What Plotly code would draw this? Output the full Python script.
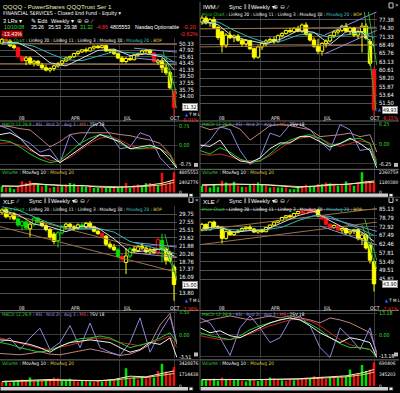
import math
import plotly.graph_objects as go

W, H = 400, 393
FONT = "Liberation Sans, Arial, sans-serif"
NARROW = "Liberation Sans Narrow, DejaVu Sans Condensed, sans-serif"
COND = "DejaVu Sans Condensed, DejaVu Sans, sans-serif"

# ---------------- shared x data ----------------
BARS = list(range(44))
DATE_TICKS = [5.1, 18.25, 31.4, 43.2]
DATE_LABELS = ["08", "APR", "JUL", "OCT"]
VGRID = [14.5, 29.25, 43.0]
MA_GRID = [0, 4, 8, 12, 16, 20, 24, 28, 32, 36, 40, 43]
IND_GRID = [-0.5, 2, 4.5, 7, 9.5, 12, 14.5, 17, 19.5, 22, 24.5, 27, 29.5, 32, 34.5, 37, 39.5, 42, 43.7]

# ---------------- QQQQ ----------------
QQQQ_OPEN = [50.4, 51.9, 51.2, 49.5, 48.8, 45.6, 44.3, 45.2, 43.5, 44.1,
             42.9, 42.0, 41.3, 41.8, 42.6, 43.4, 44.2, 45.2, 45.6, 46.7,
             47.3, 48.0, 47.6, 48.7, 49.3, 48.8, 49.5, 47.6, 47.9, 46.6,
             45.2, 44.0, 45.0, 44.6, 46.2, 46.6, 47.6, 47.9, 46.9, 43.8,
             44.3, 42.0, 40.5, 35.26]
QQQQ_HIGH = [52.4, 52.3, 51.9, 50.2, 49.2, 46.0, 45.8, 45.7, 44.6, 44.5,
             43.6, 42.9, 42.2, 43.0, 43.8, 44.6, 45.6, 46.0, 47.0, 47.6,
             48.3, 48.8, 49.0, 49.6, 49.8, 49.9, 49.9, 48.4, 48.2, 47.0,
             45.8, 45.5, 46.0, 46.5, 47.0, 48.0, 48.3, 48.2, 47.0, 45.0,
             45.2, 43.0, 41.0, 35.53]
QQQQ_LOW = [50.0, 50.6, 49.0, 48.2, 45.2, 43.8, 42.8, 43.0, 42.4, 42.6,
            41.5, 40.9, 40.6, 41.0, 42.0, 42.6, 43.9, 44.6, 45.2, 46.0,
            46.9, 47.0, 47.4, 48.0, 48.4, 48.5, 47.3, 46.8, 46.3, 44.8,
            43.6, 43.4, 44.2, 44.4, 45.6, 46.2, 46.8, 46.6, 43.6, 43.0,
            40.5, 39.8, 35.9, 29.38]
QQQQ_CLOSE = [51.9, 51.2, 49.5, 48.8, 45.6, 44.3, 45.2, 43.5, 44.1, 42.9,
              42.0, 41.3, 41.8, 42.6, 43.4, 44.2, 45.2, 45.6, 46.7, 47.3,
              48.0, 47.6, 48.7, 49.3, 48.8, 49.5, 47.6, 47.9, 46.6, 45.2,
              44.0, 45.0, 44.6, 46.2, 46.6, 47.6, 47.9, 46.9, 44.0, 44.3,
              42.0, 40.5, 36.2, 31.32]
QQQQ_BOP = ("YRYYRRYYYY" "YYYYYYYYYY" "YYYYYYYYYY" "YYYYYYYYRY" "YYYR")
QQQQ_MA10 = [50.8, 50.6, 47.8, 43.6, 42.6, 45.0, 47.8, 48.3, 46.0, 46.6, 45.6, 41.5]
QQQQ_MA20 = [50.0, 50.4, 49.3, 46.7, 44.6, 44.3, 45.8, 47.4, 47.0, 46.5, 46.2, 43.8]
QQQQ_LR20 = [[-0.5, 50.2, 43.7, 50.0], [-0.5, 43.2, 43.7, 43.0]]
QQQQ_LR11 = [[33, 48.6, 43.7, 47.2], [33, 45.2, 43.7, 43.8]]
QQQQ_LR3 = [[40.3, 47.5, 43.6, 31.1], [41.0, 45.5, 43.7, 34.5]]
QQQQ_MACD = [0.2, 0.14, -0.07, -0.34, -0.55, -0.68, -0.61, -0.27, 0.07, 0.27, 0.41, 0.34, 0.07, -0.14, -0.14, -0.07, -0.14, -0.41, -0.89]
QQQQ_SIGNAL = [0.07, 0.1, 0.0, -0.2, -0.41, -0.59, -0.64, -0.48, -0.2, 0.07, 0.27, 0.34, 0.2, 0.0, -0.14, -0.14, -0.14, -0.34, -0.82]
QQQQ_RSI = [0.75, 0.61, 0.27, 0.07, -0.27, -0.14, -0.68, 0.41, 0.0, 0.68, 0.89, 0.41, -0.14, -0.07, 0.48, 0.34, -0.48, -0.89, -0.95]
QQQQ_MS = [0.75, 0.72, 0.64, 0.59, 0.27, -0.07, 0.14, 0.41, 0.48, 0.48, 0.5, 0.48, 0.41, 0.37, 0.27, 0.2, 0.07, -0.34, -0.89]
QQQQ_TSV = [0.41, 0.48, 0.27, -0.14, -0.41, -0.41, -0.68, -0.41, -0.14, 0.14, 0.41, 0.27, 0.14, -0.14, -0.07, 0.0, -0.14, -0.55, -0.89]
QQQQ_VOL = [1.5, 1.2, 1.2, 0.8, 1.5, 2.7, 2.3, 2.8, 1.9, 1.9,
            1.5, 1.9, 1.1, 1.3, 1.5, 1.5, 1.9, 2.3, 2.1, 1.5,
            1.5, 1.3, 1.5, 1.1, 1.1, 1.1, 1.1, 1.1, 1.3, 1.1,
            1.5, 2.3, 1.1, 1.7, 1.9, 1.5, 2.2, 2.3, 2.0, 1.7,
            4.7, 1.9, 2.7, 4.8]
QQQQ_VDIR = ("GRGGRRRRRG" "RGRGRGRGGR" "GGRGGRGGRG" "GRGRRGGRRG" "RRRR")
QQQQ_VMA10 = [1.6, 1.5, 2.2, 1.8, 1.6, 1.7, 1.3, 1.2, 1.4, 1.7, 2.2, 3.0]
QQQQ_VMA20 = [1.5, 1.5, 1.9, 1.9, 1.7, 1.6, 1.4, 1.3, 1.3, 1.5, 1.8, 2.4]
QQQQ_PTICKS = [50.33, 47.92, 45.61, 43.45, 41.33, 39.50, 37.55, 35.75, 34.00]
QQQQ_ITICKS = [0.75, 0.0, -0.75]
QQQQ_ILABELS = ["0.75", "0.00", "-0.75"]
QQQQ_VTICKS = [4.805553, 2.402776, 0]
QQQQ_VLABELS = ["4805553", "2402776", "0"]

# ---------------- IWM ----------------
IWM_OPEN = [76.5, 78.0, 76.2, 77.4, 74.5, 73.0, 68.4, 71.8, 70.9, 71.5,
            70.0, 68.8, 69.9, 67.2, 64.5, 67.8, 68.9, 69.8, 70.3, 69.5,
            71.6, 72.4, 73.4, 73.0, 74.2, 73.2, 75.4, 72.0, 70.1, 68.0,
            66.4, 68.9, 69.8, 71.6, 72.9, 73.5, 75.0, 73.2, 74.3, 71.8,
            73.0, 75.0, 69.6, 60.6]
IWM_HIGH = [79.0, 78.8, 78.0, 78.5, 75.0, 73.4, 72.5, 73.2, 72.0, 72.2,
            70.8, 70.4, 70.2, 67.6, 68.3, 69.5, 70.4, 71.0, 71.3, 72.0,
            72.8, 73.8, 74.4, 74.6, 75.2, 76.0, 76.4, 72.6, 71.0, 70.5,
            69.4, 70.3, 72.0, 73.5, 74.0, 75.5, 76.2, 74.8, 74.8, 73.8,
            76.3, 76.0, 70.5, 61.5]
IWM_LOW = [75.5, 75.6, 74.8, 74.0, 70.2, 66.0, 67.5, 70.4, 69.4, 69.5,
           68.0, 67.9, 66.8, 63.8, 64.0, 66.8, 68.0, 69.0, 68.8, 69.2,
           71.0, 72.0, 72.5, 72.6, 72.8, 72.6, 71.6, 69.6, 67.5, 65.4,
           65.0, 67.6, 69.3, 70.8, 72.0, 72.9, 72.6, 72.0, 71.2, 70.5,
           66.0, 70.2, 61.8, 48.5]
IWM_CLOSE = [78.0, 76.2, 77.4, 74.5, 71.0, 68.4, 71.8, 70.9, 71.5, 70.0,
             68.8, 69.9, 67.2, 64.5, 67.8, 68.9, 69.8, 70.3, 69.5, 71.6,
             72.4, 73.4, 73.0, 74.2, 73.2, 75.4, 72.0, 70.1, 68.0, 66.4,
             68.9, 69.8, 71.6, 72.9, 73.5, 75.0, 73.2, 74.3, 71.8, 73.0,
             75.0, 70.8, 62.6, 49.93]
IWM_BOP = ("YYYYYYYYYY" "YYYYYYYYYY" "YYYYYYYYYY" "YYYYYYYYYY" "YYYR")
IWM_MA10 = [77.0, 75.5, 71.0, 69.8, 68.8, 70.6, 73.4, 72.8, 68.6, 73.0, 73.0, 68.0]
IWM_MA20 = [76.0, 76.6, 73.5, 71.0, 69.2, 69.8, 71.8, 72.6, 71.0, 71.8, 72.8, 70.8]
IWM_LR20 = [[-0.5, 74.0, 43.7, 74.6], [-0.5, 67.8, 43.7, 68.4]]
IWM_LR11 = [[30.75, 71.9, 43.7, 80.4], [30.75, 65.6, 43.7, 73.5]]
IWM_LR3 = [[40.6, 80.4, 43.5, 49.6], [41.6, 80.4, 43.7, 62.0]]
IWM_MACD = [-2.0, -3.1, -1.1, -2.5, -4.7, -5.8, -5.3, -3.1, -0.3, 1.3, 2.4, 3.0, 1.9, -0.3, 0.2, 1.5, 1.9, 0.2, -6.4]
IWM_SIGNAL = [-3.1, -3.5, -3.1, -3.9, -5.0, -5.3, -5.3, -3.6, -1.4, 0.8, 1.9, 2.4, 1.9, 0.2, -0.7, 0.2, 1.1, 0.4, -5.3]
IWM_RSI = [-1.4, 1.3, 5.5, 4.6, -2.0, -6.4, -4.2, 3.5, 2.4, 6.2, 6.2, 4.6, 0.8, -2.0, 6.2, 4.6, -2.0, -1.4, -6.4]
IWM_MS = [5.7, 4.6, 5.2, 6.2, 4.8, 1.3, 3.5, 5.9, 6.2, 5.9, 5.2, 4.6, 2.4, 2.6, 3.0, 3.5, 2.4, 3.0, -2.5]
IWM_TSV = [-0.3, -0.7, 1.3, -3.1, -5.3, -5.8, -4.4, -1.4, 0.4, 0.4, 2.4, 2.4, 0.8, -0.9, 0.2, 1.9, 0.2, -2.0, -7.5]
IWM_VOL = [0.79, 0.98, 0.59, 0.98, 0.67, 1.38, 1.18, 0.98, 1.26, 0.79,
           0.67, 0.67, 0.98, 1.06, 1.18, 0.98, 0.79, 0.59, 0.67, 0.59,
           0.59, 0.59, 0.39, 0.39, 0.59, 0.67, 0.90, 0.79, 0.67, 0.98,
           0.98, 1.18, 1.06, 0.98, 0.79, 0.90, 1.30, 0.98, 0.79, 1.06,
           2.36, 1.38, 1.18, 1.30]
IWM_VDIR = ("GRGGGRGRGR" "GRGRGGRGRG" "GRGGGRRGGR" "GRGRGRGRGR" "GRRR")
IWM_VMA10 = [0.9, 0.95, 1.0, 0.95, 0.9, 0.75, 0.6, 0.75, 0.95, 0.95, 1.2, 1.35]
IWM_VMA20 = [0.85, 0.9, 0.95, 0.95, 0.92, 0.82, 0.7, 0.72, 0.85, 0.9, 1.05, 1.2]
IWM_PTICKS = [77.38, 74.30, 71.33, 68.49, 65.76, 63.13, 60.61, 58.20, 55.87, 53.64, 51.50]
IWM_ITICKS = [6.25, 0.0, -6.25]
IWM_ILABELS = ["6.25", "0.00", "-6.25"]
IWM_VTICKS = [2.360759, 1.180380, 0]
IWM_VLABELS = ["2360759", "1180380", "0"]

# ---------------- XLF ----------------
XLF_OPEN = [30.2, 31.2, 29.0, 29.8, 28.4, 26.6, 27.6, 25.8, 27.0, 28.6,
            27.6, 26.6, 25.6, 24.5, 23.0, 24.8, 26.4, 27.0, 26.3, 26.0,
            26.8, 26.2, 27.2, 26.3, 25.2, 24.6, 24.0, 22.2, 21.6, 21.0,
            19.7, 18.6, 19.8, 21.2, 20.9, 21.7, 21.4, 20.6, 21.1, 20.5,
            23.0, 21.2, 20.3, 17.8]
XLF_HIGH = [31.5, 31.6, 30.2, 30.4, 28.8, 28.0, 28.0, 27.4, 29.0, 28.9,
            27.8, 27.0, 26.0, 25.0, 25.2, 26.8, 27.4, 27.3, 26.8, 27.2,
            27.3, 27.6, 27.8, 26.6, 25.6, 24.9, 24.3, 22.8, 22.3, 21.4,
            20.3, 21.4, 21.6, 21.8, 22.0, 22.4, 21.8, 21.5, 21.4, 23.6,
            24.6, 21.6, 20.8, 18.2]
XLF_LOW = [29.6, 28.6, 28.2, 28.0, 26.3, 25.4, 25.6, 23.8, 26.4, 27.2,
           26.2, 25.2, 23.4, 22.2, 21.5, 24.4, 25.8, 25.8, 25.4, 25.6,
           25.8, 25.9, 26.0, 24.9, 24.3, 23.8, 21.8, 21.2, 20.8, 19.4,
           18.8, 16.6, 19.4, 20.4, 20.6, 21.0, 20.3, 20.1, 20.2, 19.9,
           18.6, 18.2, 18.6, 12.8]
XLF_CLOSE = [31.0, 29.0, 29.8, 28.4, 26.8, 27.6, 26.0, 27.0, 28.6, 27.6,
             26.6, 25.6, 23.8, 22.8, 24.8, 26.4, 27.0, 26.3, 26.0, 26.8,
             26.2, 27.2, 26.3, 25.2, 24.6, 24.0, 22.2, 21.6, 21.0, 19.7,
             19.2, 19.8, 21.2, 20.9, 21.7, 21.4, 20.6, 21.1, 20.5, 23.2,
             21.2, 19.0, 18.9, 15.00]
XLF_BOP = ("YYYYGGGYGG" "YYYYGGYYYY" "GYYYYRYYYG" "RYGYYYYYYR" "GYYY")
XLF_MA10 = [31.0, 29.6, 27.0, 26.3, 25.1, 26.5, 26.0, 23.4, 20.5, 20.8, 21.2, 19.8]
XLF_MA20 = [32.0, 31.0, 29.0, 27.2, 26.0, 25.8, 25.9, 25.0, 22.8, 21.8, 21.0, 20.4]
XLF_LR20 = [[-0.5, 30.5, 43.7, 19.6], [-0.5, 26.35, 43.7, 16.9]]
XLF_LR11 = [[33, 22.6, 43.7, 21.6], [33, 20.4, 43.7, 19.5]]
XLF_LR3 = [[40.7, 24.5, 43.7, 15.6], [40.0, 22.8, 43.7, 16.0]]
XLF_MACD = [-1.2, -1.5, -2.0, -2.3, -2.7, -2.4, -1.8, -1.2, -0.6, -0.5, -0.2, -0.5, -1.2, -2.0, -1.6, -1.2, -0.5, 0.3, -1.2]
XLF_SIGNAL = [-0.5, -0.9, -1.2, -1.6, -2.1, -2.3, -2.0, -1.6, -1.2, -0.6, -0.5, -0.7, -1.2, -1.5, -1.7, -1.2, -0.8, -0.2, -2.0]
XLF_RSI = [-1.2, -0.5, -2.3, -0.5, 1.0, -2.3, -1.2, 1.4, -2.0, 1.8, -2.0, -2.7, -3.2, -1.2, 2.6, -2.7, 0.3, 2.8, -1.2]
XLF_MS = [-2.9, -3.0, -3.1, -2.9, -2.6, -3.0, -3.1, -2.8, -2.5, -2.2, -2.5, -2.9, -3.2, -3.0, -2.4, -1.5, 1.5, 3.3, -1.5]
XLF_TSV = [-0.8, -0.9, -1.2, -1.5, -2.0, -2.7, -1.8, -1.2, -1.0, -0.8, -1.0, -1.2, -2.0, -2.7, -2.3, -1.2, -1.5, -0.5, -3.5]
XLF_VOL = [0.6, 0.8, 0.5, 0.7, 0.9, 1.0, 0.8, 1.3, 0.7, 0.9,
           0.8, 1.0, 0.9, 1.3, 1.2, 0.8, 0.9, 1.1, 0.8, 0.7,
           0.9, 0.8, 0.7, 0.6, 0.8, 0.7, 0.9, 1.0, 0.9, 1.2,
           1.0, 2.7, 1.1, 1.3, 1.0, 1.4, 1.2, 1.5, 1.3, 2.3,
           3.4, 2.2, 2.0, 2.9]
XLF_VDIR = ("RGRGGRRGRG" "RGRRRGGGRR" "GRGRRGRGRG" "RGRGRGRRGR" "GRRR")
XLF_VMA10 = [0.7, 0.8, 0.9, 1.0, 0.9, 0.8, 0.8, 1.0, 1.5, 1.4, 1.9, 2.3]
XLF_VMA20 = [0.65, 0.7, 0.8, 0.9, 0.9, 0.85, 0.8, 0.9, 1.2, 1.3, 1.6, 1.9]
XLF_PTICKS = [29.75, 27.55, 25.51, 23.62, 21.88, 20.26, 18.76, 17.37, 16.09, 13.80]
XLF_ITICKS = [3.50, 0.0, -3.51]
XLF_ILABELS = ["3.50", "0.00", "-3.51"]
XLF_VTICKS = [3.428876, 1.714438, 0]
XLF_VLABELS = ["3428876", "1714438", "0"]

# ---------------- XLE ----------------
XLE_OPEN = [71.0, 74.5, 71.0, 76.0, 72.8, 72.6, 65.8, 69.8, 68.0, 69.5,
            70.2, 71.8, 72.6, 71.5, 69.6, 70.4, 69.8, 72.4, 74.0, 76.0,
            77.0, 79.2, 80.4, 79.6, 82.0, 83.5, 82.4, 84.2, 83.0, 84.6,
            80.2, 78.2, 74.6, 72.4, 73.8, 70.8, 71.8, 69.0, 70.1, 71.0,
            65.6, 67.8, 61.8, 53.4]
XLE_HIGH = [75.5, 75.0, 76.5, 77.0, 74.0, 73.2, 70.6, 70.8, 70.2, 71.0,
            72.5, 73.2, 74.0, 72.2, 71.0, 71.6, 72.8, 74.4, 76.5, 77.5,
            79.6, 81.0, 81.4, 82.6, 84.0, 84.6, 85.0, 85.6, 85.3, 85.0,
            81.0, 78.8, 75.2, 74.4, 74.2, 72.4, 72.6, 70.6, 71.6, 71.8,
            69.0, 69.0, 63.0, 54.0]
XLE_LOW = [70.0, 70.3, 70.5, 72.2, 71.5, 62.8, 65.0, 67.4, 67.2, 68.8,
           69.6, 70.8, 71.0, 69.0, 68.5, 69.0, 69.4, 72.0, 73.5, 75.2,
           76.6, 78.4, 79.0, 79.2, 81.2, 81.8, 81.6, 82.6, 82.2, 79.4,
           77.6, 74.0, 71.8, 71.6, 70.2, 69.0, 68.2, 67.6, 68.4, 64.6,
           62.0, 59.5, 52.6, 41.0]
XLE_CLOSE = [74.5, 71.0, 76.0, 72.8, 72.5, 65.8, 69.8, 68.0, 69.5, 70.2,
             71.8, 72.6, 71.5, 69.6, 70.4, 69.8, 72.4, 74.0, 76.0, 77.0,
             79.2, 80.4, 79.6, 82.0, 83.5, 82.4, 84.2, 83.0, 84.6, 80.2,
             78.2, 74.6, 72.4, 73.8, 70.8, 71.8, 69.0, 70.1, 71.0, 65.6,
             67.8, 60.4, 54.2, 43.90]
XLE_BOP = ("YYYYYYYYYY" "YYYYYYYYYY" "YYYYYRRRRY" "RRRYRYYYYY" "YYYY")
XLE_MA10 = [72.0, 73.0, 69.5, 70.5, 71.0, 75.5, 80.5, 83.6, 77.0, 71.5, 69.5, 64.0]
XLE_MA20 = [70.5, 72.0, 71.0, 70.6, 71.0, 72.6, 77.0, 80.5, 80.0, 75.0, 71.0, 67.5]
XLE_LR20 = [[-0.5, 70.7, 43.7, 85.7], [-0.5, 62.2, 43.7, 76.0]]
XLE_LR11 = [[29.5, 80.5, 43.7, 70.0], [29.5, 73.4, 43.7, 62.0]]
XLE_LR3 = [[40.7, 78.0, 43.7, 54.0], [40.0, 74.0, 43.7, 50.0]]
XLE_MACD = [1.2, -0.6, -1.8, -3.0, -0.6, 3.0, 5.4, 7.2, 9.0, 10.2, 9.0, 6.6, 3.0, -1.8, -5.4, -7.8, -7.8, -9.0, -13.8]
XLE_SIGNAL = [-0.6, -1.8, -3.0, -3.0, -1.8, 0.6, 3.0, 5.4, 7.2, 9.0, 9.6, 8.4, 5.4, 1.2, -3.0, -6.0, -7.8, -9.0, -12.6]
XLE_RSI = [10.2, 7.2, -1.8, -12.6, 4.2, 11.4, 4.2, -4.8, -1.8, 9.0, 11.4, 5.4, -7.8, -13.8, 4.2, -1.8, -9.0, 4.2, -12.6]
XLE_MS = [7.2, 9.0, 10.2, 11.4, 10.2, 9.0, 10.2, 11.4, 10.2, 11.4, 10.2, 9.0, 7.2, 10.2, 9.0, 7.2, 4.2, 1.2, -10.8]
XLE_TSV = [4.2, 1.2, 2.4, -0.6, -1.8, 1.2, 4.2, 7.2, 9.0, 10.2, 9.0, 5.4, 1.2, -1.8, -4.8, -1.8, -3.0, -4.8, -13.8]
XLE_VOL = [0.20, 0.18, 0.20, 0.22, 0.16, 0.26, 0.20, 0.22, 0.18, 0.20,
           0.16, 0.14, 0.20, 0.18, 0.15, 0.20, 0.22, 0.26, 0.24, 0.20,
           0.18, 0.16, 0.20, 0.18, 0.20, 0.22, 0.26, 0.24, 0.30, 0.26,
           0.28, 0.22, 0.26, 0.30, 0.26, 0.30, 0.28, 0.50, 0.36, 0.40,
           0.64, 0.45, 0.50, 0.72]
XLE_VDIR = ("GGRGGRGRGG" "RGGRGGRGRR" "GRRGRRRGRR" "RRGRGRGGRR" "GGRR")
XLE_VMA10 = [0.2, 0.21, 0.2, 0.19, 0.2, 0.2, 0.22, 0.25, 0.27, 0.31, 0.4, 0.5]
XLE_VMA20 = [0.19, 0.2, 0.2, 0.2, 0.2, 0.2, 0.21, 0.23, 0.25, 0.28, 0.34, 0.42]
XLE_PTICKS = [85.13, 78.79, 72.92, 67.49, 62.46, 57.81, 53.49, 49.51, 45.82]
XLE_ITICKS = [13.18, 0.0, -13.18]
XLE_ILABELS = ["13.18", "0.00", "-13.18"]
XLE_VTICKS = [0.690406, 0.345203, 0]
XLE_VLABELS = ["690406", "345203", "0"]

# ---------------- panel layout (pixels) ----------------
CHARTS = [
    dict(sym="QQQQ", x0=0, price=(36, 120), ind=(121, 169), vol=(170, 193), scroll=194,
         prange=(28.4, 52.6), irange=(-0.92, 0.92), vrange=(0, 5.4), pct="-8.01%",
         tml_y=113.5, pct_y=119.5,
         o=QQQQ_OPEN, h=QQQQ_HIGH, l=QQQQ_LOW, c=QQQQ_CLOSE, bop=QQQQ_BOP,
         ma10=QQQQ_MA10, ma20=QQQQ_MA20, lr20=QQQQ_LR20, lr11=QQQQ_LR11, lr3=QQQQ_LR3,
         macd=QQQQ_MACD, sig=QQQQ_SIGNAL, rsi=QQQQ_RSI, ms=QQQQ_MS, tsv=QQQQ_TSV,
         vol_v=QQQQ_VOL, vdir=QQQQ_VDIR, vma10=QQQQ_VMA10, vma20=QQQQ_VMA20,
         pt=QQQQ_PTICKS, it=QQQQ_ITICKS, il=QQQQ_ILABELS, vt=QQQQ_VTICKS, vl=QQQQ_VLABELS),
    dict(sym="IWM", x0=200, price=(10, 120), ind=(121, 169), vol=(170, 193), scroll=194,
         prange=(47.4, 80.4), irange=(-7.8, 7.2), vrange=(0, 2.65), pct="-8.15%",
         tml_y=None, pct_y=117.5,
         o=IWM_OPEN, h=IWM_HIGH, l=IWM_LOW, c=IWM_CLOSE, bop=IWM_BOP,
         ma10=IWM_MA10, ma20=IWM_MA20, lr20=IWM_LR20, lr11=IWM_LR11, lr3=IWM_LR3,
         macd=IWM_MACD, sig=IWM_SIGNAL, rsi=IWM_RSI, ms=IWM_MS, tsv=IWM_TSV,
         vol_v=IWM_VOL, vdir=IWM_VDIR, vma10=IWM_VMA10, vma20=IWM_VMA20,
         pt=IWM_PTICKS, it=IWM_ITICKS, il=IWM_ILABELS, vt=IWM_VTICKS, vl=IWM_VLABELS),
    dict(sym="XLF", x0=0, price=(207, 312), ind=(313, 361), vol=(363, 389), scroll=390,
         prange=(11.7, 32.1), irange=(-3.66, 3.66), vrange=(0, 3.9), pct="-7.98%",
         tml_y=302.5, pct_y=311.0,
         o=XLF_OPEN, h=XLF_HIGH, l=XLF_LOW, c=XLF_CLOSE, bop=XLF_BOP,
         ma10=XLF_MA10, ma20=XLF_MA20, lr20=XLF_LR20, lr11=XLF_LR11, lr3=XLF_LR3,
         macd=XLF_MACD, sig=XLF_SIGNAL, rsi=XLF_RSI, ms=XLF_MS, tsv=XLF_TSV,
         vol_v=XLF_VOL, vdir=XLF_VDIR, vma10=XLF_VMA10, vma20=XLF_VMA20,
         pt=XLF_PTICKS, it=XLF_ITICKS, il=XLF_ILABELS, vt=XLF_VTICKS, vl=XLF_VLABELS),
    dict(sym="XLE", x0=200, price=(207, 312), ind=(313, 361), vol=(363, 389), scroll=390,
         prange=(34.8, 87.4), irange=(-14.4, 14.4), vrange=(0, 0.78), pct="-7.41%",
         tml_y=302.5, pct_y=311.0,
         o=XLE_OPEN, h=XLE_HIGH, l=XLE_LOW, c=XLE_CLOSE, bop=XLE_BOP,
         ma10=XLE_MA10, ma20=XLE_MA20, lr20=XLE_LR20, lr11=XLE_LR11, lr3=XLE_LR3,
         macd=XLE_MACD, sig=XLE_SIGNAL, rsi=XLE_RSI, ms=XLE_MS, tsv=XLE_TSV,
         vol_v=XLE_VOL, vdir=XLE_VDIR, vma10=XLE_VMA10, vma20=XLE_VMA20,
         pt=XLE_PTICKS, it=XLE_ITICKS, il=XLE_ILABELS, vt=XLE_VTICKS, vl=XLE_VLABELS),
]

CANDLE_COL = {"Y": "#ffff00", "R": "#ff1010", "G": "#00e400"}
VOL_COL = {"G": "#00e000", "R": "#f01010"}
GREEN_T = "#33dd33"
RED_T = "#ff3030"
PLOT_W = 177

fig = go.Figure()
axes = {}
annotations = []
shapes = []


def px(v):
    return v / W


def py(v):
    return 1 - v / H


def ann(x, y, text, color="#ffffff", size=5.5, family=FONT, xanchor="left", **kw):
    d = dict(x=px(x), y=py(y), xref="paper", yref="paper", text=text, showarrow=False,
             xanchor=xanchor, yanchor="middle", align="left",
             font=dict(color=color, size=size, family=family), borderpad=0)
    d.update(kw)
    annotations.append(d)


def hline(x0, x1, y, color="#6a6a6a", width=1):
    shapes.append(dict(type="line", xref="paper", yref="paper", x0=px(x0), x1=px(x1),
                       y0=py(y), y1=py(y), line=dict(color=color, width=width)))


def rect(x0, y0, x1, y1, fill, line=None):
    shapes.append(dict(type="rect", xref="paper", yref="paper", x0=px(x0), x1=px(x1),
                       y0=py(y1), y1=py(y0), fillcolor=fill,
                       line=dict(color=line or fill, width=1 if line else 0)))


def make_axes(k, x0, ytop, ybot, ycfg):
    xn = "xaxis" if k == 1 else f"xaxis{k}"
    yn = "yaxis" if k == 1 else f"yaxis{k}"
    xid = "x" if k == 1 else f"x{k}"
    yid = "y" if k == 1 else f"y{k}"
    axes[xn] = dict(domain=[px(x0), px(x0 + PLOT_W)], range=[-0.5, 43.75], anchor=yid,
                    tickmode="array", tickvals=VGRID, showticklabels=False, ticks="",
                    showgrid=True, gridcolor="#3a3a3a", gridwidth=1, zeroline=False,
                    showline=False, fixedrange=True)
    base = dict(domain=[py(ybot), py(ytop)], anchor=xid, side="right", ticks="",
                zeroline=False, showline=False, fixedrange=True, tickmode="array",
                ticklabelstandoff=1)
    base.update(ycfg)
    axes[yn] = base
    return xid, yid


LEGEND = ("<span style='color:#33dd33'>Price Chart</span> : LinReg 20 : LinReg 11 : LinReg 3 : "
          "MovAvg 10 : <span style='color:#40c8c8'>MovAvg 20</span> : "
          "<span style='color:#e0d040'>BOP</span>")
IND_TITLE = ("<span style='color:#33dd33'>MACD 12,26,9</span> : "
             "<span style='color:#9a9aee'>RSI : Rnd 2r : Avg 3</span> : "
             "<span style='color:#e06060'>MS</span> : TSV 18")
VOL_TITLE = ("<span style='color:#33dd33'>Volume</span> : MovAvg 10 : "
             "<span style='color:#e0d040'>MovAvg 20</span>")

for ci, ch in enumerate(CHARTS):
    x0 = ch["x0"]
    kp, ki, kv = ci * 3 + 1, ci * 3 + 2, ci * 3 + 3
    o, h, l, c, bop = ch["o"], ch["h"], ch["l"], ch["c"], ch["bop"]

    # ---- price pane ----
    ptxt = [f"{v:.2f}" for v in ch["pt"]]
    xp, yp = make_axes(kp, x0, ch["price"][0], ch["price"][1], dict(
        type="log", range=[math.log10(ch["prange"][0]), math.log10(ch["prange"][1])],
        tickvals=ch["pt"], ticktext=ptxt, showgrid=True, gridcolor="#505050",
        tickfont=dict(size=5.8, color="#f4f4f4", family=COND)))

    for seg_list, col in ((ch["lr20"], "#a07040"), (ch["lr11"], "#8c8cd8"), (ch["lr3"], "#30b030")):
        for s in seg_list:
            fig.add_trace(go.Scatter(x=[s[0], s[2]], y=[s[1], s[3]], mode="lines",
                                     line=dict(color=col, width=1), xaxis=xp, yaxis=yp,
                                     hoverinfo="skip", showlegend=False))
    fig.add_trace(go.Scatter(x=MA_GRID, y=ch["ma20"], mode="lines", line=dict(color="#2fb8b8", width=1),
                             xaxis=xp, yaxis=yp, hoverinfo="skip", showlegend=False))
    fig.add_trace(go.Scatter(x=MA_GRID, y=ch["ma10"], mode="lines", line=dict(color="#d8d8d8", width=1),
                             xaxis=xp, yaxis=yp, hoverinfo="skip", showlegend=False))

    for key, col in CANDLE_COL.items():
        wx, wy = [], []
        for i in BARS:
            if bop[i] != key:
                continue
            top, bot = max(o[i], c[i]), min(o[i], c[i])
            wx += [i, i, None, i, i, None]
            wy += [h[i], top, None, bot, l[i], None]
        if wx:
            fig.add_trace(go.Scatter(x=wx, y=wy, mode="lines", line=dict(color=col, width=1),
                                     xaxis=xp, yaxis=yp, hoverinfo="skip", showlegend=False,
                                     connectgaps=False))
    fills = [("#000000" if c[i] > o[i] else CANDLE_COL[bop[i]]) for i in BARS]
    lines = [CANDLE_COL[bop[i]] for i in BARS]
    fig.add_trace(go.Bar(x=BARS, y=[c[i] - o[i] for i in BARS], base=o, width=0.85,
                         marker=dict(color=fills, line=dict(color=lines, width=1)),
                         xaxis=xp, yaxis=yp, hoverinfo="skip", showlegend=False))

    # ---- indicator pane ----
    itxt = [f"<span style='color:{GREEN_T}'>{ch['il'][0]}</span>",
            f"<span style='color:{GREEN_T}'>{ch['il'][1]}</span>",
            ch["il"][2]]
    xi, yi = make_axes(ki, x0, ch["ind"][0], ch["ind"][1], dict(
        range=list(ch["irange"]), tickvals=ch["it"], ticktext=itxt, showgrid=True,
        gridcolor="#3c3c3c", tickfont=dict(size=5.3, color="#f4f4f4", family=COND)))
    for key, col in (("ms", "#c08080"), ("rsi", "#8888dd"), ("sig", "#c02828"),
                     ("macd", "#26c826"), ("tsv", "#ececec")):
        fig.add_trace(go.Scatter(x=IND_GRID, y=ch[key], mode="lines", line=dict(color=col, width=1),
                                 xaxis=xi, yaxis=yi, hoverinfo="skip", showlegend=False))

    # ---- volume pane ----
    xv, yv = make_axes(kv, x0, ch["vol"][0], ch["vol"][1], dict(
        range=list(ch["vrange"]), tickvals=ch["vt"], ticktext=ch["vl"], showgrid=False,
        tickfont=dict(size=4.8, color="#f4f4f4", family=COND)))
    fig.add_trace(go.Bar(x=BARS, y=ch["vol_v"], width=0.62,
                         marker=dict(color=[VOL_COL[d] for d in ch["vdir"]], line=dict(width=0)),
                         xaxis=xv, yaxis=yv, hoverinfo="skip", showlegend=False))
    fig.add_trace(go.Scatter(x=MA_GRID, y=ch["vma20"], mode="lines", line=dict(color="#e0d050", width=1),
                             xaxis=xv, yaxis=yv, hoverinfo="skip", showlegend=False))
    fig.add_trace(go.Scatter(x=MA_GRID, y=ch["vma10"], mode="lines", line=dict(color="#e8e8e8", width=1),
                             xaxis=xv, yaxis=yv, hoverinfo="skip", showlegend=False))

    # ---- texts in panes ----
    pt_top, pt_bot = ch["price"]
    legend_y = pt_top + 3 if ci != 0 else 38.5
    ann(x0 + 1, legend_y, LEGEND, size=4.6, family=NARROW)
    ann(x0 + 1, ch["ind"][0] + 3.5, IND_TITLE, size=4.6, family=NARROW)
    ann(x0 + 1, ch["vol"][0] + 3, VOL_TITLE, size=4.8, family=NARROW)
    for t, lab in zip(DATE_TICKS, DATE_LABELS):
        annotations.append(dict(x=t, y=py(pt_bot - 2.5), xref=xp, yref="paper", text=lab,
                                showarrow=False, xanchor="center", yanchor="middle",
                                font=dict(size=5.0, color="#e8e8e8", family=COND)))
    annotations.append(dict(x=px(x0 + 182), y=math.log10(c[-1]), xref="paper", yref=yp,
                            text=f"{c[-1]:.2f}", showarrow=False, xanchor="left", yanchor="middle",
                            bgcolor="#ffffff", bordercolor="#888888", borderwidth=1, borderpad=0,
                            font=dict(size=5.3, color="#000000", family=COND)))
    ann(x0 + 199.5, ch["pct_y"], ch["pct"], color=RED_T, size=5.0, family=NARROW, xanchor="right")
    if ch["tml_y"] is not None:
        ann(x0 + 184, ch["tml_y"], "<span style='color:#3060ff'>&#9650;</span> T M L", size=4.4, family=NARROW)
    else:
        ann(x0 + 177, pt_bot - 11, "&#9650;", color="#3060ff", size=4.6, family=NARROW)

    hline(x0, x0 + 199, ch["ind"][0] - 0.5, "#707070")
    hline(x0, x0 + 199, ch["vol"][0] - 0.5, "#707070")
    rect(x0 + 0.5, ch["scroll"], x0 + 188, ch["scroll"] + 3.5, "#cfcfcf")
    rect(x0 + 189, ch["scroll"], x0 + 193, ch["scroll"] + 3.5, "#f2f2f2", "#222222")
    rect(x0 + 194, ch["ind"][1] - 6, x0 + 198, ch["ind"][1] - 2, "#b8b8b8")

# ---------------- headers ----------------
ann(2, 5, "QQQQ - PowerShares QQQTrust Ser 1", color="#e4efb8", size=6.2)
ann(2, 12, "FINANCIAL SERVICES - Closed End Fund - Equity &#9662;", size=5.3, family=NARROW)
ann(2, 19, "3 LRs &#9662;", size=5.6)
ann(30, 19, "&#9998; Edit", size=5.6)
ann(50, 19, "Weekly &#9662;", size=5.6)
ann(76, 19, "&#8853; &#8854;  &#8725;", color="#dddddd", size=5.6)
for xx, txt, col in ((3, "10/10/08", GREEN_T), (30, "35.26", "#ffffff"), (47, "35.53", "#ffffff"),
                     (63, "29.38", "#ffffff"), (79, "31.32", GREEN_T), (95, "-4.86", RED_T),
                     (109, "4805553", "#ffffff"), (134, "Nasdaq", "#ffffff"),
                     (153, "Optionable", "#ffffff")):
    ann(xx, 25.5, txt, color=col, size=5.2)
ann(197, 25.5, "-0.20", color=RED_T, size=5.6, xanchor="right")
ann(1, 32.3, "-13.43%", color="#ffffff", size=5.4, bgcolor="#b00000")
ann(199, 32.3, "-0.62%", color=RED_T, size=5.6, xanchor="right")

for sym, x0, y in (("IWM", 200, 5), ("XLF", 0, 202), ("XLE", 200, 202)):
    ann(x0 + 2, y, sym, size=6.2)
    ann(x0 + 14, y, "&#8725;&#8725;", color="#aaaaaa", size=5.5)
    ann(x0 + 28, y, "Sync", size=5.8)
    ann(x0 + 42, y, "&#10074;&#10074;", color="#888888", size=4.5)
    ann(x0 + 50, y, "Weekly &#9662;", size=5.8)
    ann(x0 + 72, y, "&#8853; &#8854;  &#8725;", color="#dddddd", size=5.6)
    rect(x0 + 189, y - 4, x0 + 193, y + 1, "#000000", "#cccccc")
    ann(x0 + 194, y - 1.5, "&#215;", color="#cccccc", size=6)

shapes.append(dict(type="line", xref="paper", yref="paper", x0=px(200), x1=px(200), y0=0, y1=1,
                   line=dict(color="#5a5a5a", width=1)))
hline(0, 400, 197.8, "#444444")

fig.update_layout(width=W, height=H, margin=dict(l=0, r=0, t=0, b=0),
                  paper_bgcolor="#000000", plot_bgcolor="#000000", showlegend=False,
                  barmode="overlay", hovermode=False, annotations=annotations, shapes=shapes,
                  **axes)
fig.write_html("out.html", config={"displayModeBar": False},
               post_script="document.body.style.margin='0';document.body.style.padding='0';"
                           "document.body.style.background='#000';")
